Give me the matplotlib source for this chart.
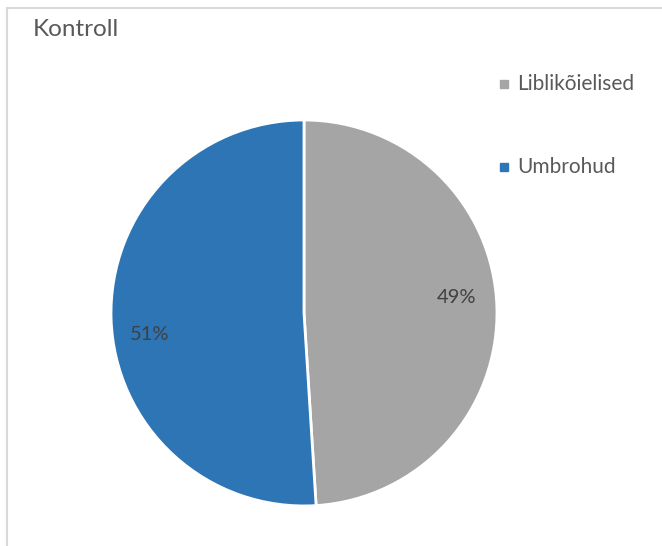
import matplotlib.pyplot as plt
from matplotlib.patches import Rectangle
from matplotlib.lines import Line2D

plt.rcParams['font.family'] = ['Lato', 'DejaVu Sans']

labels = ["Liblikõielised", "Umbrohud"]
values = [49, 51]
colors = ["#A5A5A5", "#2E75B6"]

fig = plt.figure(figsize=(6.62, 5.46), dpi=100)

# chart border (only left and top visible in the screenshot)
fig.add_artist(Line2D([7/662, 7/662], [0, 1 - 8/546], color="#D9D9D9", lw=1.5))
fig.add_artist(Line2D([7/662, 1], [1 - 8/546, 1 - 8/546], color="#D9D9D9", lw=1.5))

fig.text(33/662, 1 - 30/546, "Kontroll", fontsize=17.5, color="#595959", va="center", ha="left")

ax = fig.add_axes([0.1677, 0.0733, 0.583, 0.707])
wedges, texts = ax.pie(values, colors=colors, startangle=90, counterclock=False,
                       wedgeprops=dict(edgecolor="white", linewidth=2))
ax.set_xlim(-1.0, 1.0)
ax.set_ylim(-1.0, 1.0)
ax.set_aspect("equal")

# percentage labels
ax.text(0.79, 0.08, f"{values[0]}%", ha="center", va="center", fontsize=14.5, color="#404040")
ax.text(-0.8, -0.11, f"{values[1]}%", ha="center", va="center", fontsize=14.5, color="#404040")

# legend
ys = [84, 167]
for lab, col, y in zip(labels, colors, ys):
    fig.add_artist(Rectangle((500/662, 1 - (y + 4)/546), 8/662, 8/546, color=col))
    fig.text(517/662, 1 - y/546, lab, fontsize=15, color="#595959", va="center", ha="left")

fig.savefig("out.png", dpi=100)
